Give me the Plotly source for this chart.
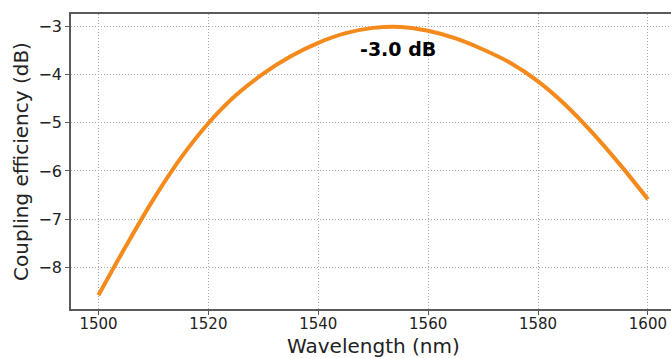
import plotly.graph_objects as go

# Data
wavelength_nm = [1500, 1505, 1510, 1515, 1520, 1525, 1530, 1535, 1540, 1545,
                 1550, 1555, 1560, 1565, 1570, 1575, 1580, 1585, 1590, 1595, 1600]
coupling_db = [-8.58, -7.56, -6.59, -5.73, -5.01, -4.43, -3.98, -3.62, -3.34, -3.14,
               -3.03, -3.01, -3.09, -3.25, -3.48, -3.76, -4.14, -4.63, -5.22, -5.88, -6.59]
x_ticks = [1500, 1520, 1540, 1560, 1580, 1600]
y_ticks = [-8, -7, -6, -5, -4, -3]
peak_label = "-3.0 dB"
peak_pos = (1554.5, -3.47)
x_title = "Wavelength (nm)"
y_title = "Coupling efficiency (dB)"

FONT = "DejaVu Sans"
SPINE = "#5a5a5a"
TXT = "#222222"
GRID = "#aaaaaa"

fig = go.Figure()
fig.add_trace(go.Scatter(
    x=wavelength_nm, y=coupling_db, mode="lines",
    line=dict(color="#F58A1C", width=4, shape="spline", smoothing=1.0),
    showlegend=False, hoverinfo="skip",
))

fig.add_annotation(
    x=peak_pos[0], y=peak_pos[1], text="<b>" + peak_label + "</b>",
    showarrow=False, font=dict(family=FONT, size=19, color="black"),
    xanchor="center", yanchor="middle",
)
# x axis title, centred on the (uncropped) axes
fig.add_annotation(
    x=0.5 * (x_ticks[0] + x_ticks[-1]), xref="x", y=0, yref="paper",
    text=x_title, showarrow=False, font=dict(family=FONT, size=20, color=TXT),
    xanchor="center", yanchor="middle", yshift=-37,
)

fig.update_layout(
    width=671, height=358,
    margin=dict(l=71, r=0, t=14, b=49),
    paper_bgcolor="white", plot_bgcolor="white",
    font=dict(family=FONT, size=15, color=TXT),
)

fig.update_xaxes(
    range=[1495, 1604.2],
    tickvals=x_ticks, ticktext=[str(v) for v in x_ticks],
    showgrid=True, gridcolor=GRID, griddash="1px,2px", gridwidth=1,
    showline=True, linecolor=SPINE, linewidth=1.5, mirror=True,
    ticks="outside", ticklen=4, tickcolor=SPINE, tickwidth=1,
    tickfont=dict(family=FONT, size=15, color=TXT),
    ticklabelstandoff=-4,
    zeroline=False,
)
fig.update_yaxes(
    range=[-8.867, -2.742],
    tickvals=y_ticks, ticktext=["\u2212" + str(abs(v)) for v in y_ticks],
    showgrid=True, gridcolor=GRID, griddash="1px,2px", gridwidth=1,
    showline=True, linecolor=SPINE, linewidth=1.5, mirror=False,
    ticks="outside", ticklen=4, tickcolor=SPINE, tickwidth=1,
    tickfont=dict(family=FONT, size=16, color=TXT),
    zeroline=False,
    title=dict(text=y_title, font=dict(family=FONT, size=20, color=TXT), standoff=4),
)

fig.write_html("out.html")
